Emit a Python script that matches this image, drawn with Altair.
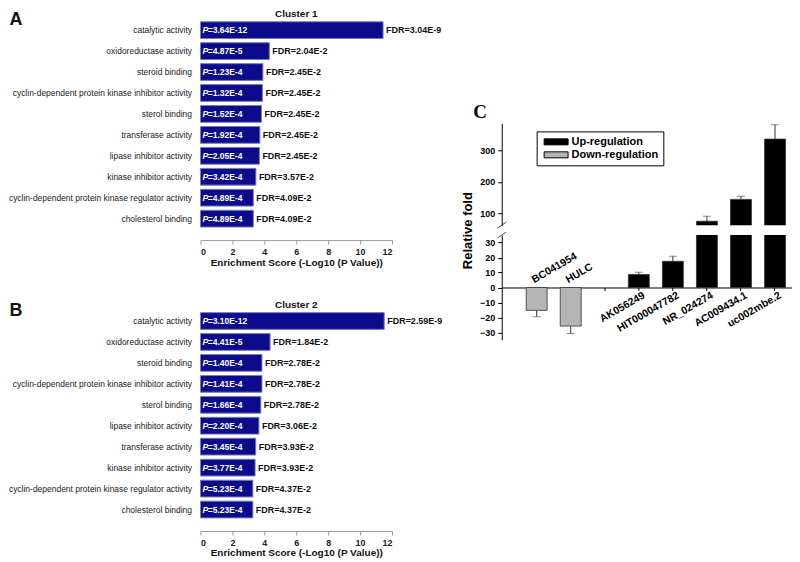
import altair as alt
import pandas as pd
import numpy as np

# ---------------- Panel A / B data ----------------
terms1 = ["catalytic activity", "oxidoreductase activity", "steroid binding",
          "cyclin-dependent protein kinase inhibitor activity", "sterol binding",
          "transferase activity", "lipase inhibitor activity", "kinase inhibitor activity",
          "cyclin-dependent protein kinase regulator activity", "cholesterol binding"]
scores1 = [11.44, 4.31, 3.91, 3.88, 3.82, 3.72, 3.69, 3.47, 3.31, 3.31]
pvals1 = ["=3.64E-12", "=4.87E-5", "=1.23E-4", "=1.32E-4", "=1.52E-4",
          "=1.92E-4", "=2.05E-4", "=3.42E-4", "=4.89E-4", "=4.89E-4"]
fdr1 = ["FDR=3.04E-9", "FDR=2.04E-2", "FDR=2.45E-2", "FDR=2.45E-2", "FDR=2.45E-2",
        "FDR=2.45E-2", "FDR=2.45E-2", "FDR=3.57E-2", "FDR=4.09E-2", "FDR=4.09E-2"]

terms2 = ["catalytic activity", "oxidoreductase activity", "steroid binding",
          "cyclin-dependent protein kinase inhibitor activity", "sterol binding",
          "lipase inhibitor activity", "transferase activity", "kinase inhibitor activity",
          "cyclin-dependent protein kinase regulator activity", "cholesterol binding"]
scores2 = [11.51, 4.36, 3.85, 3.85, 3.78, 3.66, 3.46, 3.42, 3.28, 3.28]
pvals2 = ["=3.10E-12", "=4.41E-5", "=1.40E-4", "=1.41E-4", "=1.66E-4",
          "=2.20E-4", "=3.45E-4", "=3.77E-4", "=5.23E-4", "=5.23E-4"]
fdr2 = ["FDR=2.59E-9", "FDR=1.84E-2", "FDR=2.78E-2", "FDR=2.78E-2", "FDR=2.78E-2",
        "FDR=3.06E-2", "FDR=3.93E-2", "FDR=3.93E-2", "FDR=4.37E-2", "FDR=4.37E-2"]

x_ticks = [0, 2, 4, 6, 8, 10, 12]

# ---------------- Panel C data ----------------
genes = ["BC041954", "HULC", "AK056249", "HIT000047782", "NR_024274", "AC009434.1", "uc002mbe.2"]
gene_slots = ["BC041954", "HULC", " ", "AK056249", "HIT000047782", "NR_024274", "AC009434.1", "uc002mbe.2"]
fold = [-15.3, -25.8, 8.7, 17.5, 74.5, 144.0, 336.0]
fold_err = [4.2, 5.0, 1.5, 3.4, 16.0, 10.0, 46.0]
regulation = ["Down-regulation", "Down-regulation", "Up-regulation", "Up-regulation",
              "Up-regulation", "Up-regulation", "Up-regulation"]
reg_order = ["Up-regulation", "Down-regulation"]
reg_colors = ["#000000", "#b4b4b4"]
upper_domain = [62, 386]
lower_domain = [-35, 35]
upper_ticks = [100, 200, 300]
lower_ticks = [-30, -20, -10, 0, 10, 20, 30]

FONT = "Liberation Sans"
XTITLE = "Enrichment Score (-Log10 (P Value))"


def enrich_panel(terms, scores, pvals, fdrs, title, letter):
    df = pd.DataFrame({"term": terms, "score": scores, "p": pvals, "fdr": fdrs})
    df["zero"] = 0
    base = alt.Chart(df)
    yax = alt.Axis(title=letter, titleAngle=0, titleX=-192, titleY=5, titleAlign="left",
                   titleBaseline="alphabetic", titleFontSize=18, titleFontWeight="bold",
                   titleColor="#111", labelFontSize=8.5, labelLimit=400, labelPadding=9,
                   labelColor="#222", ticks=False, domain=False, minExtent=192, maxExtent=192)
    ysc = alt.Scale(paddingInner=0.2, paddingOuter=0.1)
    y = alt.Y("term:N", sort=None, scale=ysc, axis=yax)
    xax = alt.Axis(values=x_ticks, format="d", grid=False, offset=11, tickSize=4,
                   domainColor="#999", tickColor="#999", labelFontSize=9, labelFontWeight="bold",
                   labelColor="#222", titleFontSize=10, titleFontWeight="bold", titleColor="#111",
                   labelPadding=3.5, titlePadding=0.5, labelOverlap=False, title=XTITLE)
    xsc = alt.Scale(domain=[0, 12], nice=False)
    bars = base.mark_bar(color="#0b0b8c", stroke="#7a7ab8", strokeWidth=1).encode(
        x=alt.X("score:Q", scale=xsc, axis=xax), y=y)
    p_it = base.mark_text(text="P", align="left", dx=2, fontStyle="italic", fontWeight="bold",
                          fontSize=8.5, color="white").encode(
        x=alt.X("zero:Q", scale=xsc, axis=xax), y=y)
    p_rest = base.mark_text(align="left", dx=7.3, fontWeight="bold", fontSize=8.5,
                            color="white").encode(
        x=alt.X("zero:Q", scale=xsc, axis=xax), y=y, text="p:N")
    fdr_t = base.mark_text(align="left", dx=3, fontWeight="bold", fontSize=9,
                           color="#111").encode(
        x=alt.X("score:Q", scale=xsc, axis=xax), y=y, text="fdr:N")
    return alt.layer(bars, p_it, p_rest, fdr_t).properties(
        width=192, height=210,
        title=alt.TitleParams(title, fontSize=10, fontWeight="bold", offset=-8, color="#111",
                              frame="group"))


panelA = enrich_panel(terms1, scores1, pvals1, fdr1, "Cluster 1", "A")
panelB = enrich_panel(terms2, scores2, pvals2, fdr2, "Cluster 2", "B")
left = alt.vconcat(panelA, panelB, spacing=32.6)

# ---------------- Panel C ----------------
dfc = pd.DataFrame({"gene": genes, "value": fold, "err": fold_err, "reg": regulation})
dfc["end"] = dfc["value"] + np.sign(dfc["value"]) * dfc["err"]
dfc["zero"] = 0

LEG_PATH = "M-4,-1H4V1H-4Z"
BREAK_PATH = "M-0.9,0.6L0.9,-0.6"
UP_TOP = 104          # free space above the upper segment (aligned with panel A)
UP_H = 102
LOW_H = 105


def c_layers(ydomain, ytick, upper):
    base = alt.Chart(dfc)
    xsc = alt.Scale(domain=gene_slots, paddingInner=0.385, paddingOuter=0.4545, align=0.79)
    if upper:
        xax = alt.Axis(orient="top", labels=False, ticks=False, domain=False, title="C",
                       titleX=-29, titleY=UP_TOP - 6, titleAngle=0, titleAlign="left",
                       titleBaseline="alphabetic", titleFont="Liberation Serif",
                       titleFontSize=19, titleFontWeight="bold", titleColor="#000")
        yax = alt.Axis(values=ytick, grid=False, tickSize=4, labelFontSize=9,
                       labelFontWeight="bold", labelColor="#000", domainColor="#000",
                       tickColor="#000", title=None, labelPadding=3, labelOverlap=False)
        leg = alt.Legend(title=None, orient="none", legendX=35, legendY=UP_TOP + 8,
                         symbolType=LEG_PATH, symbolSize=36, symbolStrokeColor="#000",
                         symbolStrokeWidth=1, symbolOffset=9, labelOffset=10,
                         labelFontSize=11, labelFontWeight="bold", labelColor="#000",
                         strokeColor="#000", fillColor="white", padding=5, rowPadding=1)
        ysc = alt.Scale(domain=ydomain, nice=False, zero=False, range=[UP_TOP + UP_H, UP_TOP])
        h = UP_TOP + UP_H
    else:
        xax = alt.Axis(orient="bottom", offset=-52.5, labels=False, title=None, tickSize=3,
                       domainColor="#000", tickColor="#000")
        yax = alt.Axis(values=ytick, grid=False, tickSize=4, labelFontSize=9,
                       labelFontWeight="bold", labelColor="#000", domainColor="#000",
                       tickColor="#000", title="Relative fold", titleX=-34, titleY=-5,
                       titleAngle=270, titleAlign="center", titleBaseline="middle",
                       titleFontSize=13, titleFontWeight="bold", titleColor="#000",
                       labelPadding=3, labelOverlap=False)
        leg = None
        ysc = alt.Scale(domain=ydomain, nice=False, zero=False)
        h = LOW_H
    x = alt.X("gene:N", scale=xsc, axis=xax)
    y = alt.Y("value:Q", scale=ysc, axis=yax)
    color = alt.Color("reg:N", scale=alt.Scale(domain=reg_order, range=reg_colors), legend=leg)
    bars = base.mark_bar(clip=True, stroke="#333", strokeWidth=0.8).encode(x=x, y=y, color=color)
    rule = base.mark_rule(clip=True, color="#333", strokeWidth=1).encode(
        x=x, y=y, y2="end:Q")
    cap = base.mark_tick(clip=True, orient="horizontal", size=8, thickness=1, color="#555").encode(
        x=x, y=alt.Y("end:Q", scale=ysc, axis=yax))
    brk_df = pd.DataFrame({"v": [ydomain[0] if upper else ydomain[1]]})
    brk = alt.Chart(brk_df).mark_point(shape=BREAK_PATH, filled=False,
                                       stroke="#000", strokeWidth=1, size=100).encode(
        x=alt.value(0), y=alt.Y("v:Q", scale=ysc, axis=yax))
    layers = [bars, rule, cap, brk]
    if not upper:
        yz = alt.Y("zero:Q", scale=ysc, axis=yax)
        down = base.transform_filter("datum.value < 0").mark_text(
            align="left", baseline="alphabetic", angle=330, dx=0, dy=-5, fontSize=10.5,
            fontWeight="bold", color="#000").encode(x=x, y=yz, text="gene:N")
        up = base.transform_filter("datum.value > 0").mark_text(
            align="right", baseline="top", angle=330, dx=1, dy=4, fontSize=10.5,
            fontWeight="bold", color="#000").encode(x=x, y=yz, text="gene:N")
        layers += [down, up]
    return alt.layer(*layers).properties(width=291, height=h)


c_upper = c_layers(upper_domain, upper_ticks, True)
c_lower = c_layers(lower_domain, lower_ticks, False)
right = alt.vconcat(c_upper, c_lower, spacing=10, bounds="flush").resolve_scale(
    color="independent", y="independent")

chart = alt.concat(left, right, columns=2, spacing=18).properties(
    padding={"left": 0, "top": 0, "right": 0, "bottom": 0}).configure(
    font=FONT).configure_view(stroke=None)

chart.save("out.html", embed_options={"renderer": "svg", "actions": False})
